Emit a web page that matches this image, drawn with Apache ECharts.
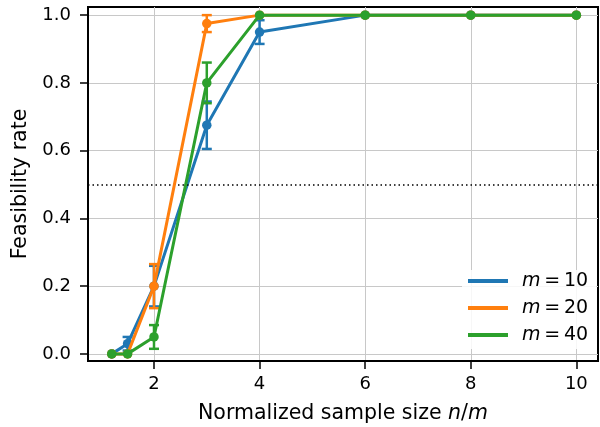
<!DOCTYPE html>
<html>
<head>
<meta charset="utf-8">
<script src="https://cdn.jsdelivr.net/npm/echarts@6/dist/echarts.min.js"></script>
<style>html,body{margin:0;padding:0;background:#fff;}#c{width:600px;height:427px;}</style>
</head>
<body>
<div id="c"></div>
<script>
// ---- data ----
const xValues = [1.2, 1.5, 2, 3, 4, 6, 8, 10];
const seriesNames = ['m = 10', 'm = 20', 'm = 40'];
const m10 = [0, 0.03, 0.2, 0.675, 0.95, 1, 1, 1];
const m10Err = [0, 0.02, 0.06, 0.07, 0.035, 0, 0, 0];
const m20 = [0, 0, 0.2, 0.975, 1, 1, 1, 1];
const m20Err = [0, 0, 0.065, 0.025, 0, 0, 0, 0];
const m40 = [0, 0, 0.05, 0.8, 1, 1, 1, 1];
const m40Err = [0, 0, 0.035, 0.06, 0, 0, 0, 0];
const xTicks = [2, 4, 6, 8, 10];
const yTicks = [0, 0.2, 0.4, 0.6, 0.8, 1.0];
const threshold = 0.5;
const colors = ['#1f77b4', '#ff7f0e', '#2ca02c'];

const FONT = 'DejaVu Sans';
const chart = echarts.init(document.getElementById('c'), null, {renderer: 'canvas'});

function errSeries(idx, ys, errs) {
  const color = colors[idx];
  return {
    type: 'custom',
    name: 'err' + idx,
    encode: {x: 0, y: 1},
    silent: true,
    z: 2 + idx * 2,
    data: xValues.map((x, i) => [x, ys[i], errs[i]]),
    renderItem: function (params, api) {
      const x = api.value(0), y = api.value(1), e = api.value(2);
      if (!e) return null;
      const top = api.coord([x, y + e]);
      const bot = api.coord([x, y - e]);
      const hw = 5;
      const st = {stroke: color, lineWidth: 2.5};
      return {
        type: 'group',
        children: [
          {type: 'line', shape: {x1: top[0], y1: top[1], x2: bot[0], y2: bot[1]}, style: st},
          {type: 'line', shape: {x1: top[0] - hw, y1: top[1], x2: top[0] + hw, y2: top[1]}, style: st},
          {type: 'line', shape: {x1: bot[0] - hw, y1: bot[1], x2: bot[0] + hw, y2: bot[1]}, style: st}
        ]
      };
    }
  };
}

function lineSeries(idx, ys) {
  const s = {
    type: 'line',
    name: seriesNames[idx],
    z: 3 + idx * 2,
    data: xValues.map((x, i) => [x, ys[i]]),
    symbol: 'circle',
    symbolSize: 9.5,
    showSymbol: true,
    lineStyle: {color: colors[idx], width: 3},
    itemStyle: {color: colors[idx]},
    emphasis: {disabled: true},
    animation: false
  };
  if (idx === 2) {
    s.markLine = {
      silent: true,
      symbol: ['none', 'none'],
      label: {show: false},
      lineStyle: {color: '#000', width: 1.5, type: [1.5, 3]},
      data: [{yAxis: threshold}]
    };
  }
  return s;
}

const option = {
  animation: false,
  backgroundColor: '#fff',
  textStyle: {fontFamily: FONT},
  grid: {left: 88, right: 2, top: 7, bottom: 66, outerBoundsMode: 'none', containLabel: false,
         show: true, borderColor: '#000', borderWidth: 2, backgroundColor: 'transparent'},
  xAxis: {
    type: 'value', min: 0.75, max: 10.41,
    name: 'Normalized sample size {i|n}/{i|m}',
    nameLocation: 'middle', nameGap: 42,
    nameTextStyle: {fontFamily: FONT, fontSize: 20.5, color: '#000', rich: {i: {fontFamily: FONT, fontStyle: 'italic', fontSize: 20.5, color: '#000'}}},
    axisLine: {show: true, onZero: false, lineStyle: {color: '#000', width: 2}},
    axisTick: {show: true, length: 8, lineStyle: {color: '#000', width: 1.5}, customValues: xTicks},
    axisLabel: {customValues: xTicks, margin: 14, fontSize: 18, color: '#000', fontFamily: FONT, formatter: v => String(v)},
    splitLine: {show: true, lineStyle: {color: '#c8c8c8', width: 1}}
  },
  yAxis: {
    type: 'value', min: -0.021, max: 1.024,
    name: 'Feasibility rate',
    nameLocation: 'middle', nameGap: 53,
    nameTextStyle: {fontFamily: FONT, fontSize: 20.5, color: '#000'},
    axisLine: {show: true, onZero: false, lineStyle: {color: '#000', width: 2}},
    axisTick: {show: true, length: 8, lineStyle: {color: '#000', width: 1.5}, customValues: yTicks},
    axisLabel: {customValues: yTicks, margin: 17, fontSize: 18, color: '#000', fontFamily: FONT, formatter: v => v.toFixed(1)},
    splitLine: {show: true, lineStyle: {color: '#c8c8c8', width: 1}}
  },
  legend: {
    data: seriesNames,
    orient: 'vertical',
    left: 462, top: 270,
    padding: [1, 8, 4, 6],
    itemWidth: 40, itemHeight: 4, itemGap: 7,
    icon: 'rect',
    backgroundColor: 'rgba(255,255,255,0.85)',
    borderWidth: 0,
    selectedMode: false,
    formatter: name => '{i|m}\u2009=\u2009' + name.split('= ')[1],
    textStyle: {
      fontFamily: FONT, fontSize: 19, color: '#000', lineHeight: 20, padding: [0, 0, 0, 9],
      rich: {i: {fontFamily: FONT, fontStyle: 'italic', fontSize: 19, color: '#000', lineHeight: 20}}
    }
  },
  series: [
    errSeries(0, m10, m10Err), lineSeries(0, m10),
    errSeries(1, m20, m20Err), lineSeries(1, m20),
    errSeries(2, m40, m40Err), lineSeries(2, m40)
  ]
};
chart.setOption(option);
</script>
</body>
</html>
